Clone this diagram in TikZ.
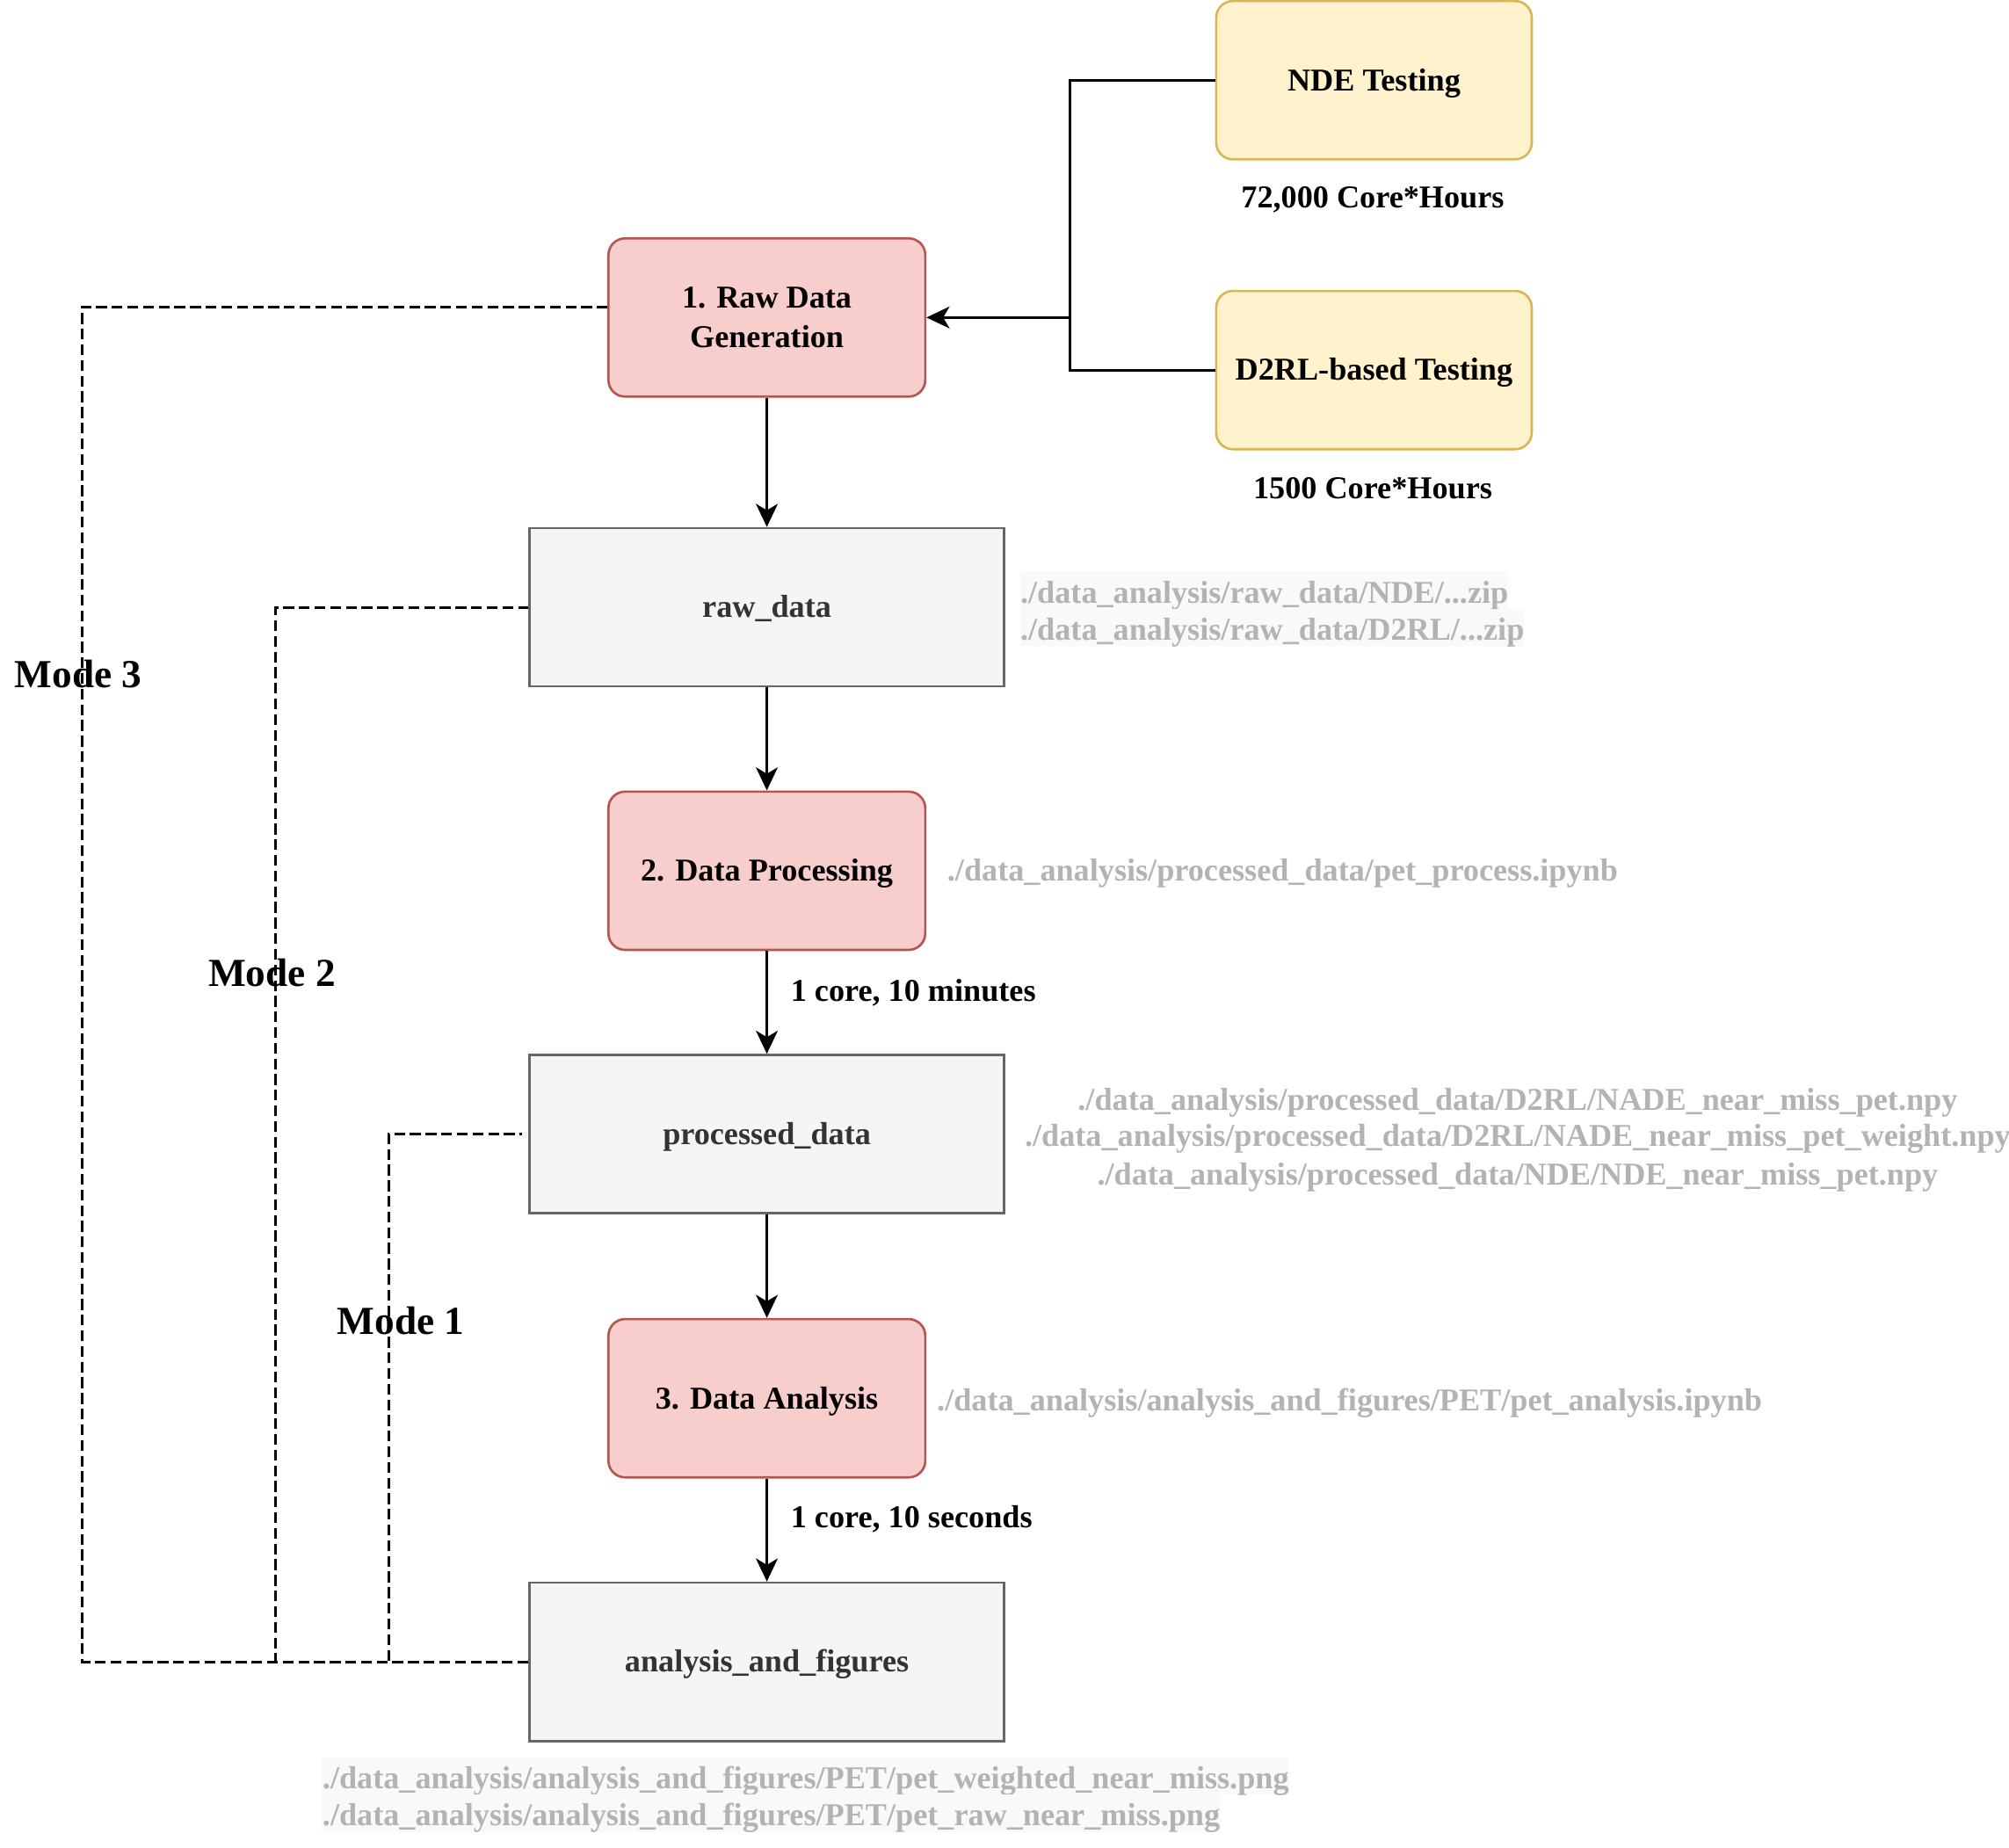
\documentclass[tikz,border=0pt]{standalone}
\usepackage{fontspec}
\setmainfont{Liberation Serif}
\usetikzlibrary{arrows.meta}
\definecolor{redfill}{HTML}{F8CECC}
\definecolor{redline}{HTML}{B85450}
\definecolor{yelfill}{HTML}{FFF2CC}
\definecolor{yelline}{HTML}{D6B656}
\definecolor{greyfill}{HTML}{F5F5F5}
\definecolor{greyline}{HTML}{666666}
\definecolor{greytext}{HTML}{333333}
\definecolor{pathtext}{HTML}{B3B3B3}
\definecolor{pathbgcol}{HTML}{F8F9FA}
\begin{document}
\begin{tikzpicture}[x=0.5pt,y=-0.5pt,
  basefont/.style={font=\fontsize{12.4}{15.5}\selectfont\bfseries},
  onel/.style={text height=11.1pt, text depth=3pt},
  boxbase/.style={basefont, align=center, inner sep=0pt, minimum height=61.7pt, line width=0.9pt},
  redbox/.style={boxbase, draw=redline, fill=redfill, rounded corners=6.5pt, minimum width=123.5pt},
  yelbox/.style={boxbase, onel, draw=yelline, fill=yelfill, rounded corners=6.5pt, minimum width=123pt},
  greybox/.style={boxbase, onel, draw=greyline, fill=greyfill, text=greytext, minimum width=185pt},
  lbl/.style={basefont, onel, inner sep=0pt},
  pathtxt/.style={basefont, onel, inner sep=0pt, text=pathtext},
  pathlbl/.style={basefont, inner sep=0pt, text height=12.2pt, text depth=2.3pt, text=pathtext, fill=pathbgcol, anchor=west},
  model/.style={font=\fontsize{15.5}{18}\selectfont\bfseries, text height=13.95pt, text depth=3.7pt, inner sep=0pt},
  arr/.style={line width=1pt, -{Stealth[length=9pt, width=8.5pt, inset=2.5pt]}},
  conn/.style={line width=1pt},
  dashline/.style={line width=1pt, dash pattern=on 4.2pt off 1.9pt}
]
\useasboundingbox (0,0) rectangle (1566,1440.6);

% boxes
\node[yelbox] (nde) at (1071,62.5) {NDE Testing};
\node[yelbox] (d2rl) at (1071,288.5) {D2RL-based Testing};
\node[redbox] (gen) at (597.75,247.5) {1. Raw Data\\Generation};
\node[greybox] (raw) at (597.75,473.4) {raw\_data};
\node[redbox,onel] (proc) at (597.75,678.8) {2. Data Processing};
\node[greybox] (pd) at (597.75,884.1) {processed\_data};
\node[redbox,onel] (ana) at (597.75,1090) {3. Data Analysis};
\node[greybox] (af) at (597.75,1295.5) {analysis\_and\_figures};

% cost labels
\node[lbl] (ndeh) at (1070,154) {72,000 Core*Hours};
\node[lbl] (d2rlh) at (1070,380.5) {1500 Core*Hours};
\node[lbl, anchor=west] (t1) at (616,772.6) {1 core, 10 minutes};
\node[lbl, anchor=west] (t2) at (616,1183) {1 core, 10 seconds};

% path labels
\node[pathlbl] (rawp1) at (795,460.1) {./data\_analysis/raw\_data/NDE/...zip};
\node[pathlbl] (rawp2) at (795,489.1) {./data\_analysis/raw\_data/D2RL/...zip};
\node[pathtxt, anchor=west] (procp) at (738,678.3) {./data\_analysis/processed\_data/pet\_process.ipynb};
\node[pathtxt] (pdp1) at (1183,857.5) {./data\_analysis/processed\_data/D2RL/NADE\_near\_miss\_pet.npy};
\node[pathtxt] (pdp2) at (1183,885.5) {./data\_analysis/processed\_data/D2RL/NADE\_near\_miss\_pet\_weight.npy};
\node[pathtxt] (pdp3) at (1183,915.9) {./data\_analysis/processed\_data/NDE/NDE\_near\_miss\_pet.npy};
\node[pathtxt, anchor=west] (anap) at (730,1091.6) {./data\_analysis/analysis\_and\_figures/PET/pet\_analysis.ipynb};
\node[pathlbl] (afp1) at (251,1384.6) {./data\_analysis/analysis\_and\_figures/PET/pet\_weighted\_near\_miss.png};
\node[pathlbl] (afp2) at (251,1413.5) {./data\_analysis/analysis\_and\_figures/PET/pet\_raw\_near\_miss.png};

% mode labels
\node[model] (m3l) at (61,526) {Mode 3};
\node[model] (m2l) at (212,758.7) {Mode 2};
\node[model] (m1l) at (312.5,1030) {Mode 1};

% junction coordinates
\coordinate (jn) at (834,247.5);
\coordinate (c3) at (64,1295.5);
\coordinate (c2) at (215,1295.5);
\coordinate (c1) at (303,1295.5);

% solid connectors
\draw[conn] (nde.west) -| (jn);
\draw[conn] (d2rl.west) -| (jn);
\draw[arr] (jn) -- (gen.east);
\draw[arr] (gen.south) -- (raw.north);
\draw[arr] (raw.south) -- (proc.north);
\draw[arr] (proc.south) -- (pd.north);
\draw[arr] (pd.south) -- (ana.north);
\draw[arr] (ana.south) -- (af.north);

% dashed mode connectors
\draw[dashline] (af.west) -- (c3) |- ([yshift=4.2pt]gen.west);
\draw[dashline] (af.west) -- (c2) |- (raw.west);
\draw[dashline] (af.west) -- (c1) |- ([xshift=-2.5pt]pd.west);
\end{tikzpicture}
\end{document}
